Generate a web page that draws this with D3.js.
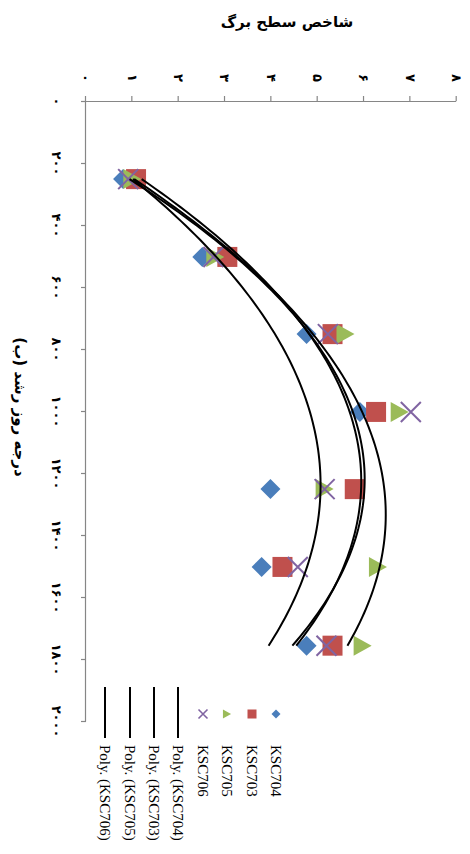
<!DOCTYPE html>
<html lang="fa">
<head>
<meta charset="UTF-8">
<title>LAI chart</title>
<script src="https://d3js.org/d3.v7.min.js"></script>
<style>
  *{padding:0; margin:0; box-sizing:border-box;}
  body{background:#fff;}
  .axis path, .axis line{stroke:#868686; stroke-width:1.2;}
  .axis text{font-family:"DejaVu Sans", sans-serif; font-size:13px; font-weight:bold; fill:#000;}
  .title{font-family:"DejaVu Sans", sans-serif; font-size:15px; font-weight:bold; fill:#000;}
  .legend text{font-family:"Liberation Serif", serif; font-size:15px; fill:#000;}
</style>
</head>
<body>
<script>
// data
const gdd = [252, 503, 752, 1003, 1252, 1503, 1757];
const ksc704 = [0.80, 2.51, 4.76, 5.91, 3.98, 3.79, 4.76];
const ksc703 = [1.08, 3.05, 5.32, 6.26, 5.80, 4.24, 5.32];
const ksc705 = [1.00, 2.79, 5.60, 6.77, 5.15, 6.30, 5.97];
const ksc706 = [0.91, 2.75, 5.22, 7.01, 5.15, 4.57, 5.19];
const seriesNames = ["KSC704", "KSC703", "KSC705", "KSC706"];
const gddTicks = [0, 200, 400, 600, 800, 1000, 1200, 1400, 1600, 1800, 2000];
const laiTicks = [0, 1, 2, 3, 4, 5, 6, 7, 8];
const xTitle = "درجه روز رشد (ب)";
const yTitle = "شاخص سطح برگ";

const series = [ksc704, ksc703, ksc705, ksc706];
const colors = ["#4A7EBB", "#C0504D", "#9BBB59", "#8064A2"];

// persian digits
const faDigits = "۰۱۲۳۴۵۶۷۸۹";
const fa = d => String(d).replace(/[0-9]/g, c => faDigits[+c]);

// chart is drawn in landscape (854x470) and turned clockwise into the page
const svg = d3.select("body").append("svg")
  .attr("width", 470).attr("height", 854);
const g = svg.append("g").attr("transform", "translate(470,0) rotate(90)");

const x = d3.scaleLinear().domain([0, 2000]).range([101, 721]);
const y = d3.scaleLinear().domain([0, 8]).range([384, 13.3]);

// axes
const xAxis = g.append("g").attr("class", "axis")
  .attr("transform", "translate(0," + y(0) + ")")
  .call(d3.axisBottom(x).tickValues(gddTicks).tickSize(5).tickSizeOuter(0).tickFormat(fa));
xAxis.selectAll("text").attr("y", 29).attr("dy", "0.35em");

const yAxis = g.append("g").attr("class", "axis")
  .attr("transform", "translate(" + x(0) + ",0)")
  .call(d3.axisLeft(y).tickValues(laiTicks).tickSize(5).tickSizeOuter(0).tickFormat(fa));
yAxis.selectAll("text").attr("x", -23).attr("text-anchor", "middle");

// titles
g.append("text").attr("class", "title")
  .attr("transform", "translate(22,183) rotate(-90)")
  .attr("text-anchor", "middle").attr("dominant-baseline", "central")
  .text(yTitle);
g.append("text").attr("class", "title")
  .attr("x", 407).attr("y", 450)
  .attr("text-anchor", "middle").attr("dominant-baseline", "central")
  .text(xTitle);

// marker shapes, s = full size
function marker(sel, i, s, c) {
  const h = s / 2;
  if (i === 0) {
    sel.append("path").attr("d", `M0,${-h}L${h},0L0,${h}L${-h},0Z`).attr("fill", c);
  } else if (i === 1) {
    sel.append("rect").attr("x", -h).attr("y", -h).attr("width", s).attr("height", s).attr("fill", c);
  } else if (i === 2) {
    sel.append("path").attr("d", `M0,${-h * 0.9}L${h},${h * 0.9}L${-h},${h * 0.9}Z`).attr("fill", c);
  } else {
    sel.append("path").attr("d", `M${-h},${-h}L${h},${h}M${h},${-h}L${-h},${h}`)
      .attr("stroke", c).attr("stroke-width", s > 12 ? 2 : 1.6).attr("fill", "none");
  }
}

// points
series.forEach((vals, i) => {
  g.append("g").selectAll("g")
    .data(vals.map((v, k) => [gdd[k], v]))
    .enter().append("g")
    .attr("transform", d => "translate(" + x(d[0]) + "," + y(d[1]) + ")")
    .each(function () { marker(d3.select(this), i, 20, colors[i]); });
});

// 2nd order polynomial trendlines (least squares)
function polyFit(xs, ys) {
  const n = xs.length;
  let s = [0, 0, 0, 0, 0], t = [0, 0, 0];
  for (let k = 0; k < n; k++) {
    const xv = xs[k] / 1000;
    for (let p = 0; p < 5; p++) s[p] += Math.pow(xv, p);
    for (let p = 0; p < 3; p++) t[p] += ys[k] * Math.pow(xv, p);
  }
  const A = [[s[0], s[1], s[2], t[0]], [s[1], s[2], s[3], t[1]], [s[2], s[3], s[4], t[2]]];
  for (let c = 0; c < 3; c++) {
    for (let r = c + 1; r < 3; r++) {
      const f = A[r][c] / A[c][c];
      for (let q = c; q < 4; q++) A[r][q] -= f * A[c][q];
    }
  }
  const b = [0, 0, 0];
  for (let r = 2; r >= 0; r--) {
    let v = A[r][3];
    for (let q = r + 1; q < 3; q++) v -= A[r][q] * b[q];
    b[r] = v / A[r][r];
  }
  return xv => { const u = xv / 1000; return b[0] + b[1] * u + b[2] * u * u; };
}

const line = d3.line().x(d => x(d[0])).y(d => y(d[1]));
series.forEach(vals => {
  const f = polyFit(gdd, vals);
  const x0 = d3.min(gdd), x1 = d3.max(gdd);
  const pts = d3.range(0, 101).map(k => { const xv = x0 + (x1 - x0) * k / 100; return [xv, f(xv)]; });
  g.append("path").attr("d", line(pts))
    .attr("fill", "none").attr("stroke", "#000").attr("stroke-width", 2);
});

// legend
const legendY = [194, 218, 243, 267, 292, 316, 340, 365];
const legend = g.append("g").attr("class", "legend");
seriesNames.forEach((name, i) => {
  const it = legend.append("g").attr("transform", "translate(714," + legendY[i] + ")");
  marker(it, i, 9, colors[i]);
  it.append("text").attr("x", 31).attr("dominant-baseline", "central").text(name);
});
seriesNames.forEach((name, i) => {
  const it = legend.append("g").attr("transform", "translate(0," + legendY[i + 4] + ")");
  it.append("line").attr("x1", 687).attr("x2", 738).attr("stroke", "#000").attr("stroke-width", 2);
  it.append("text").attr("x", 745).attr("dominant-baseline", "central").text("Poly. (" + name + ")");
});
</script>
</body>
</html>
